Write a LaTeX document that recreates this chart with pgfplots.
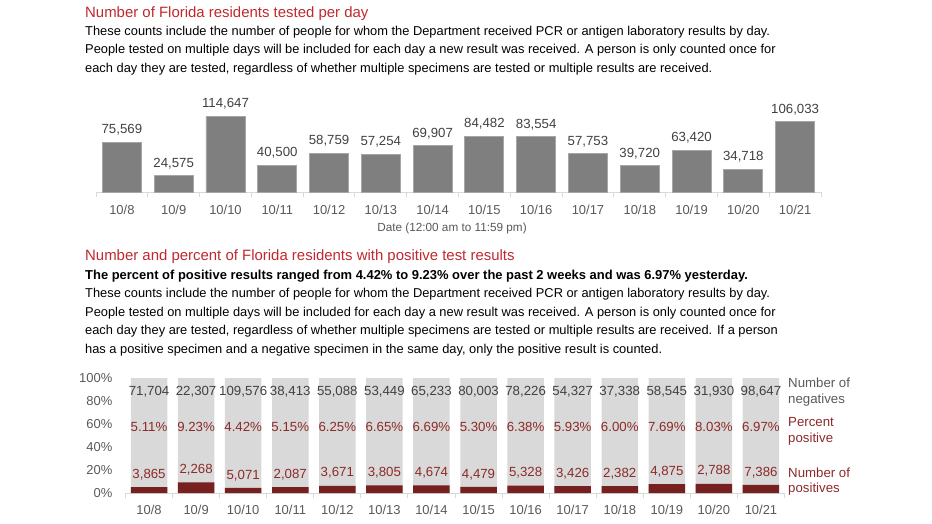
\documentclass[border=0pt]{standalone}
\usepackage{pgfplots}
\pgfplotsset{compat=1.18}
\usepackage{pgfplotstable}
\usepackage{fontspec}
\setmainfont{Liberation Sans}

\definecolor{titleRed}{HTML}{C0282D}
\definecolor{darkRed}{HTML}{76201F}
\definecolor{textRed}{HTML}{8C2A28}
\definecolor{barGray}{HTML}{7F7F7F}
\definecolor{barEdge}{HTML}{A6A6A6}
\definecolor{lightBar}{HTML}{D9D9D9}
\definecolor{lineGray}{HTML}{D9D9D9}
\definecolor{tickGray}{HTML}{595959}
\definecolor{valGray}{HTML}{404040}

\newcommand{\titlefont}{\fontsize{15}{18}\selectfont}
\newcommand{\bodyfont}{\fontsize{12.9}{15}\selectfont}
\newcommand{\valfont}{\fontsize{13.3}{15}\selectfont}
\newcommand{\tickfont}{\fontsize{13}{15}\selectfont}

% people tested per day
\pgfplotstableread{
x tested
0 75569
1 24575
2 114647
3 40500
4 58759
5 57254
6 69907
7 84482
8 83554
9 57753
10 39720
11 63420
12 34718
13 106033
}\testedtable

% negatives, positives, percent positive
\pgfplotstableread{
x neg pos pct all
0 71704 3865 5.11 100
1 22307 2268 9.23 100
2 109576 5071 4.42 100
3 38413 2087 5.15 100
4 55088 3671 6.25 100
5 53449 3805 6.65 100
6 65233 4674 6.69 100
7 80003 4479 5.30 100
8 78226 5328 6.38 100
9 54327 3426 5.93 100
10 37338 2382 6.00 100
11 58545 4875 7.69 100
12 31930 2788 8.03 100
13 98647 7386 6.97 100
}\posTable

\newcommand{\days}{10/8,10/9,10/10,10/11,10/12,10/13,10/14,10/15,10/16,10/17,10/18,10/19,10/20,10/21}

\pgfplotsset{
  daychart/.style={
    scale only axis, clip=false,
    xmin=-0.5, xmax=13.5,
    axis x line*=bottom,
    x axis line style={-, draw=lineGray, line width=1bp},
    xtick={0,...,13}, xticklabels/.expand once={\days},
    minor xtick={-0.5,0.5,...,13.5},
    tick align=outside,
    major tick length=0pt, minor tick length=5bp,
    minor tick style={draw=lineGray, line width=1bp},
    xticklabel style={font=\tickfont, text=tickGray, inner sep=0pt, anchor=base},
    /pgf/number format/assume math mode=true,
  },
}

\begin{document}
\begin{tikzpicture}
\useasboundingbox (0,0) rectangle (932bp,-524bp);

% ---- top texts
\node[anchor=base west, inner sep=0, text=titleRed, font=\titlefont] at (85bp,-17bp) {Number of Florida residents tested per day};
\begin{scope}[every node/.style={anchor=base west, inner sep=0, font=\bodyfont, text=black}]
\node at (85bp,-35bp) {These counts include the number of people for whom the Department received PCR or antigen laboratory results by day.};
\node at (85bp,-53.5bp) {People tested on multiple days will be included for each day a new result was received. A person is only counted once for};
\node at (85bp,-72bp) {each day they are tested, regardless of whether multiple specimens are tested or multiple results are received.};
\end{scope}

% ---- tested per day
\begin{axis}[daychart,
  at={(96bp,-192bp)}, anchor=south west,
  width=725bp, height=86bp,
  ymin=0, ymax=130000,
  axis y line=none,
  xticklabel style={yshift=-22.5bp},
]
\addplot[ybar, bar shift=0pt, bar width=39bp, fill=barGray, draw=barEdge, line width=0.8bp,
  nodes near coords={\pgfmathprintnumber[fixed, precision=0, 1000 sep={,}]{\pgfplotspointmeta}},
  every node near coord/.append style={font=\valfont, text=valGray, inner sep=0pt, yshift=6.5bp}]
  table[x=x, y=tested]{\testedtable};
\end{axis}
\node[anchor=base, inner sep=0, font=\fontsize{11.8}{14}\selectfont, text=tickGray] at (452bp,-231bp) {Date (12:00 am to 11:59 pm)};

% ---- second texts
\node[anchor=base west, inner sep=0, text=titleRed, font=\titlefont] at (85bp,-260.5bp) {Number and percent of Florida residents with positive test results};
\node[anchor=base west, inner sep=0, font=\fontsize{13}{15}\selectfont\bfseries] at (85bp,-279.5bp) {The percent of positive results ranged from 4.42\% to 9.23\% over the past 2 weeks and was 6.97\% yesterday.};
\begin{scope}[every node/.style={anchor=base west, inner sep=0, font=\bodyfont, text=black}]
\node at (85bp,-297.5bp) {These counts include the number of people for whom the Department received PCR or antigen laboratory results by day.};
\node at (85bp,-316bp) {People tested on multiple days will be included for each day a new result was received. A person is only counted once for};
\node at (85bp,-334.5bp) {each day they are tested, regardless of whether multiple specimens are tested or multiple results are received. If a person};
\node at (85bp,-353bp) {has a positive specimen and a negative specimen in the same day, only the positive result is counted.};
\end{scope}

% ---- positives / negatives
\begin{axis}[daychart,
  at={(125.5bp,-493bp)}, anchor=south west,
  width=659bp, height=115bp,
  ymin=0, ymax=100,
  axis y line*=left, y axis line style={draw=none},
  ytick={0,20,...,100}, ytick style={draw=none},
  yticklabel={\pgfmathprintnumber{\tick}\%},
  yticklabel style={font=\tickfont, text=tickGray, inner sep=0pt, anchor=east, xshift=-13bp},
  xticklabel style={yshift=-21.5bp},
]
\addplot[ybar, bar shift=0pt, bar width=36.5bp, fill=lightBar, draw=none]
  table[x=x, y=all]{\posTable};
\addplot[ybar, bar shift=0pt, bar width=36.5bp, fill=darkRed, draw=none,
  point meta=\thisrow{pos},
  nodes near coords={\pgfmathprintnumber[fixed, precision=0, 1000 sep={,}]{\pgfplotspointmeta}},
  every node near coord/.append style={font=\valfont, text=textRed, inner sep=0pt, yshift=7bp}]
  table[x=x, y=pct]{\posTable};
% labels for negatives and percent positive, at fixed heights
\addplot[only marks, mark=none, point meta=\thisrow{neg},
  nodes near coords={\pgfmathprintnumber[fixed, precision=0, 1000 sep={,}]{\pgfplotspointmeta}},
  every node near coord/.append style={font=\valfont, text=valGray, inner sep=0pt, anchor=center}]
  table[x=x, y expr=87.8]{\posTable};
\addplot[only marks, mark=none, point meta=\thisrow{pct},
  nodes near coords={\pgfmathprintnumber[fixed, zerofill, precision=2]{\pgfplotspointmeta}\%},
  every node near coord/.append style={font=\valfont, text=textRed, inner sep=0pt, anchor=center}]
  table[x=x, y expr=57.4]{\posTable};
\end{axis}

% ---- legend on the right
\begin{scope}[every node/.style={anchor=base west, inner sep=0, font=\fontsize{13.3}{15}\selectfont}]
\node[text=tickGray] at (788bp,-387.5bp) {Number of};
\node[text=tickGray] at (788bp,-403.5bp) {negatives};
\node[text=textRed] at (788bp,-426.5bp) {Percent};
\node[text=textRed] at (788bp,-442.5bp) {positive};
\node[text=textRed] at (788bp,-477.5bp) {Number of};
\node[text=textRed] at (788bp,-492.5bp) {positives};
\end{scope}
\end{tikzpicture}
\end{document}
